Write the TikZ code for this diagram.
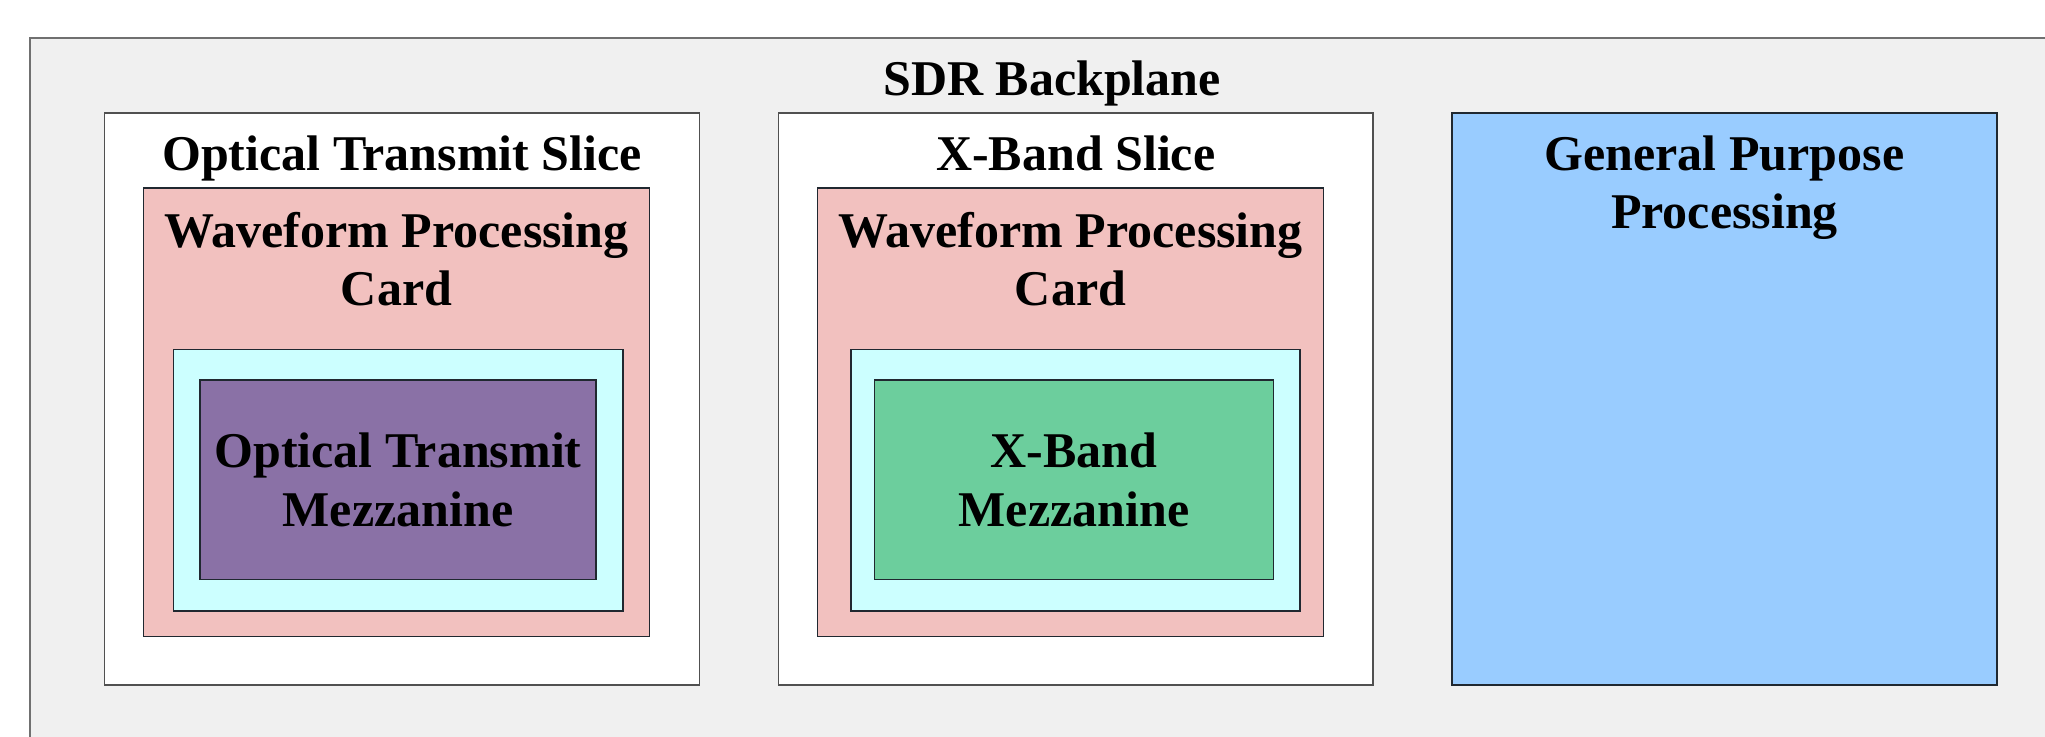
\documentclass[tikz,border=0pt]{standalone}
\usepackage{fontspec}
\setmainfont{Liberation Serif}
\usetikzlibrary{fit}
\definecolor{bpfill}{HTML}{F0F0F0}
\definecolor{bpline}{HTML}{707070}
\definecolor{slline}{HTML}{505050}
\definecolor{cardfill}{HTML}{F2C1BF}
\definecolor{cyanfill}{HTML}{CCFFFF}
\definecolor{purplefill}{HTML}{8A71A6}
\definecolor{greenfill}{HTML}{6CCE9D}
\definecolor{bluefill}{HTML}{99CCFF}
\definecolor{darkline}{HTML}{202830}
\begin{document}
\begin{tikzpicture}[x=0.5pt,y=-0.5pt,
  lbl/.style={font=\bfseries\fontsize{25}{29}\selectfont, inner sep=0pt, anchor=base},
  region/.style={inner sep=0pt, draw=#1, line width=0.7pt},
  backbox/.style={region=bpline, fill=bpfill, line width=1pt},
  slicebox/.style={region=slline, fill=white},
  cardbox/.style={region=darkline, fill=cardfill},
  carrierbox/.style={region=darkline, fill=cyanfill},
  mezzbox/.style={region=darkline, fill=#1},
  gppbox/.style={region=darkline, fill=bluefill, line width=1.2pt}]
\useasboundingbox (0,0) rectangle (2045,737);
\clip (0,0) rectangle (2045,737);
% backplane
\node[backbox, fit={(29.5,38) (2080,780)}] (backplane) {};
\node[lbl] (bptitle) at (1052,96) {SDR Backplane};
% slice 1
\node[slicebox, fit={(104.5,113) (699.5,685)}] (slice1) {};
\node[lbl] (s1title) at (402,171) {Optical Transmit Slice};
\node[cardbox, fit={(143.5,188) (649.5,636.5)}] (card1) {};
\node[lbl] (c1a) at (396.5,248) {Waveform Processing};
\node[lbl] (c1b) at (396.5,306) {Card};
\node[carrierbox, fit={(173.5,349.5) (623,611)}] (carrier1) {};
\node[mezzbox=purplefill, fit={(200,380) (596,579.5)}] (mezz1) {};
\node[lbl] (m1a) at (398,467) {Optical Transmit};
\node[lbl] (m1b) at (398,526) {Mezzanine};
% slice 2
\node[slicebox, fit={(778.5,113) (1373,685)}] (slice2) {};
\node[lbl] (s2title) at (1075.7,171) {X-Band Slice};
\node[cardbox, fit={(817.5,188) (1323.5,636.5)}] (card2) {};
\node[lbl] (c2a) at (1070.5,248) {Waveform Processing};
\node[lbl] (c2b) at (1070.5,306) {Card};
\node[carrierbox, fit={(851,349.5) (1300,611)}] (carrier2) {};
\node[mezzbox=greenfill, fit={(874.3,380) (1273.7,579.5)}] (mezz2) {};
\node[lbl] (m2a) at (1074,467) {X-Band};
\node[lbl] (m2b) at (1074,526) {Mezzanine};
% general purpose processing
\node[gppbox, fit={(1452,113) (1997,685)}] (gpp) {};
\node[lbl] (g1) at (1724.5,171) {General Purpose};
\node[lbl] (g2) at (1724.5,229) {Processing};
\end{tikzpicture}
\end{document}
